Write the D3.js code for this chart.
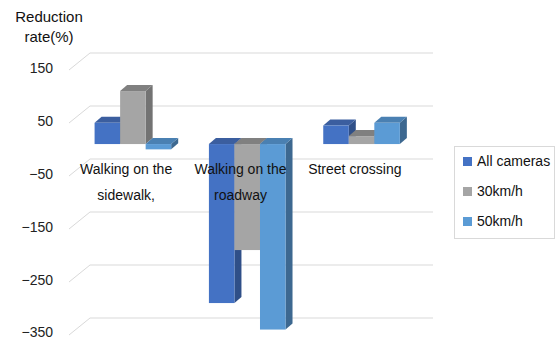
<!DOCTYPE html>
<html><head><meta charset="utf-8">
<script src="https://cdn.jsdelivr.net/npm/d3@7"></script>
<style>body{margin:0;background:#fff}svg{display:block;font-family:"Liberation Sans",Arial,sans-serif}</style>
</head><body><svg id="c" width="557" height="339"></svg>
<script>
const categories = ["sidewalk", "roadway", "crossing"];
const categoryLabels = [["Walking on the", "sidewalk,"], ["Walking on the", "roadway"], ["Street crossing"]];
const seriesNames = ["All cameras", "30km/h", "50km/h"];
const allCameras = [40, -300, 35];
const km30 = [100, -200, 15];
const km50 = [-10, -350, 40];
const tickValues = [150, 50, -50, -150, -250, -350];
const tickLabels = ["150", "50", "\u221250", "\u2212150", "\u2212250", "\u2212350"];

const seriesValues = [allCameras, km30, km50];
const palette = [
  {front: "#4472C4", top: "#3B5E9F", side: "#2F4F88"},
  {front: "#A5A5A5", top: "#808080", side: "#737373"},
  {front: "#5B9BD5", top: "#4A80B2", side: "#3D6890"}
];

const svg = d3.select("#c");
const depthX = 21, depthY = -17;
const y = d3.scaleLinear().domain([-350, 150]).range([335, 70]);
const x0 = d3.scaleBand().domain(categories).range([69, 412]).paddingInner(0.33).paddingOuter(0.165);
const x1 = d3.scaleBand().domain(seriesNames).range([0, x0.bandwidth()]);

// gridlines (floor/back wall)
const grid = svg.append("g");
tickValues.forEach((v, i) => {
  const yy = y(v);
  grid.append("polyline")
    .attr("points", `69,${yy} ${69 + depthX},${yy + depthY} 433,${yy + depthY}`)
    .attr("fill", "none").attr("stroke", "#d9d9d9").attr("stroke-width", 1);
  svg.append("text").attr("x", 53).attr("y", Math.min(yy + 3, 337)).attr("text-anchor", "end")
    .attr("font-size", 14).attr("fill", "#222").text(tickLabels[i]);
});

// bars
const fOff = 0.32;
const fx = fOff * depthX, fy = fOff * depthY;
const bdx = 7, bdy = -6;
const bars = svg.append("g");
categories.forEach((c, ci) => {
  seriesNames.forEach((s, si) => {
    const v = seriesValues[si][ci];
    const xl = x0(c) + x1(s) + fx, xr = xl + x1.bandwidth();
    const y0 = y(0) + fy, yv = y(v) + fy;
    const yt = Math.min(y0, yv), yb = Math.max(y0, yv);
    const col = palette[si];
    bars.append("polygon").attr("fill", col.side)
      .attr("points", `${xr},${yt} ${xr + bdx},${yt + bdy} ${xr + bdx},${yb + bdy} ${xr},${yb}`);
    bars.append("polygon").attr("fill", col.top)
      .attr("points", `${xl},${yt} ${xl + bdx},${yt + bdy} ${xr + bdx},${yt + bdy} ${xr},${yt}`);
    bars.append("rect").attr("fill", col.front)
      .attr("x", xl).attr("y", yt).attr("width", xr - xl).attr("height", Math.max(yb - yt, 0.5));
  });
});

// category labels
categories.forEach((c, ci) => {
  const cx = x0(c) + x0.bandwidth() / 2;
  categoryLabels[ci].forEach((line, li) => {
    svg.append("text").attr("x", cx).attr("y", 174 + li * 26).attr("text-anchor", "middle")
      .attr("font-size", 14).attr("fill", "#111").text(line);
  });
});

// title
svg.append("text").attr("x", 49).attr("y", 22).attr("text-anchor", "middle").attr("font-size", 15).attr("fill", "#111").text("Reduction");
svg.append("text").attr("x", 49).attr("y", 42).attr("text-anchor", "middle").attr("font-size", 15).attr("fill", "#111").text("rate(%)");

// legend
const lg = svg.append("g");
lg.append("rect").attr("x", 454.5).attr("y", 146.5).attr("width", 100).attr("height", 92)
  .attr("fill", "#fff").attr("stroke", "#d9d9d9");
seriesNames.forEach((s, si) => {
  const cy = 161 + si * 30;
  lg.append("rect").attr("x", 463).attr("y", cy - 4).attr("width", 9).attr("height", 9).attr("fill", palette[si].front);
  lg.append("text").attr("x", 477).attr("y", cy + 5).attr("font-size", 14).attr("fill", "#111").text(s);
});
</script></body></html>
